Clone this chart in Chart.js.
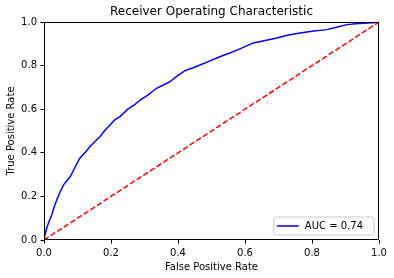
<!DOCTYPE html>
<html>
<head>
<meta charset="utf-8">
<script src="https://cdn.jsdelivr.net/npm/chart.js@4"></script>
<style>
html,body{margin:0;padding:0;background:#fff;}
#wrap{width:394px;height:278px;position:relative;}
</style>
</head>
<body>
<div id="wrap"><canvas id="c" width="394" height="278"></canvas></div>
<script>
const fpr = [0, 0.004, 0.008, 0.015, 0.023, 0.03, 0.038, 0.048, 0.058, 0.068, 0.078, 0.088, 0.098, 0.107, 0.122, 0.137, 0.152, 0.167, 0.18, 0.197, 0.212, 0.227, 0.25, 0.27, 0.287, 0.31, 0.336, 0.355, 0.376, 0.40, 0.421, 0.445, 0.466, 0.49, 0.516, 0.54, 0.555, 0.59, 0.625, 0.66, 0.695, 0.73, 0.764, 0.80, 0.844, 0.87, 0.904, 0.93, 0.953, 0.98, 1];
const tpr = [0, 0.03, 0.054, 0.085, 0.115, 0.15, 0.183, 0.22, 0.252, 0.272, 0.29, 0.32, 0.35, 0.375, 0.40, 0.428, 0.452, 0.474, 0.50, 0.528, 0.552, 0.566, 0.60, 0.62, 0.642, 0.665, 0.696, 0.71, 0.726, 0.755, 0.777, 0.79, 0.803, 0.818, 0.835, 0.85, 0.858, 0.88, 0.904, 0.915, 0.927, 0.94, 0.95, 0.958, 0.965, 0.975, 0.988, 0.992, 0.994, 0.996, 1];
const diagX = [0, 1];
const diagY = [0, 1];
const aucLabel = 'AUC = 0.74';
const titleText = 'Receiver Operating Characteristic';
const xTitle = 'False Positive Rate';
const yTitle = 'True Positive Rate';

const FONT = 'DejaVu Sans';

const framePlugin = {
  id: 'frame',
  afterDraw(chart) {
    const {ctx, chartArea: a} = chart;
    ctx.save();
    ctx.strokeStyle = '#000';
    ctx.lineWidth = 1;
    ctx.strokeRect(Math.round(a.left) + 0.5, Math.round(a.top) + 0.5, Math.round(a.right - a.left) - 1, Math.round(a.bottom - a.top) - 1);
    // legend box in lower right
    const ds = chart.data.datasets[0];
    ctx.font = '10px ' + FONT;
    const tw = ctx.measureText(ds.label).width;
    const h = 18;
    const w = 7 + 22 + 7 + tw + 6;
    const x1 = a.right - 5 - w;
    const y1 = a.bottom - 5 - h;
    ctx.fillStyle = 'rgba(255,255,255,0.8)';
    ctx.strokeStyle = '#cccccc';
    ctx.beginPath();
    const r = 2;
    ctx.moveTo(x1 + r, y1);
    ctx.arcTo(x1 + w, y1, x1 + w, y1 + h, r);
    ctx.arcTo(x1 + w, y1 + h, x1, y1 + h, r);
    ctx.arcTo(x1, y1 + h, x1, y1, r);
    ctx.arcTo(x1, y1, x1 + w, y1, r);
    ctx.closePath();
    ctx.fill();
    ctx.stroke();
    ctx.strokeStyle = ds.borderColor;
    ctx.lineWidth = 1.5;
    ctx.beginPath();
    ctx.moveTo(x1 + 3, y1 + h / 2);
    ctx.lineTo(x1 + 25, y1 + h / 2);
    ctx.stroke();
    ctx.fillStyle = '#000';
    ctx.textBaseline = 'middle';
    ctx.textAlign = 'left';
    ctx.fillText(ds.label, x1 + 31, y1 + h / 2 + 0.5);
    ctx.restore();
  }
};

new Chart(document.getElementById('c'), {
  type: 'scatter',
  data: {
    datasets: [
      {
        label: aucLabel,
        data: fpr.map((x, i) => ({x, y: tpr[i]})),
        showLine: true,
        borderColor: '#0000ff',
        borderWidth: 1.5,
        pointRadius: 0,
        tension: 0,
        fill: false,
        order: 1
      },
      {
        label: 'diag',
        data: diagX.map((x, i) => ({x, y: diagY[i]})),
        showLine: true,
        borderColor: '#ff0000',
        borderWidth: 1.5,
        borderDash: [5.5, 2.4],
        pointRadius: 0,
        fill: false,
        order: 0
      }
    ]
  },
  options: {
    responsive: false,
    animation: false,
    devicePixelRatio: 1,
    layout: {padding: {left: 0, right: 15, top: 0, bottom: 0}},
    plugins: {
      legend: {display: false},
      tooltip: {enabled: false},
      title: {
        display: true,
        fullSize: false,
        text: titleText,
        color: '#000',
        font: {family: FONT, size: 12, weight: 'normal'},
        padding: {top: 5, bottom: 2.6}
      }
    },
    scales: {
      x: {
        type: 'linear',
        min: 0, max: 1,
        afterFit(s) { s.height = 38; },
        border: {display: false},
        grid: {display: true, drawOnChartArea: false, drawTicks: true, tickLength: 3.5, tickColor: '#000', color: '#000'},
        ticks: {stepSize: 0.2, color: '#000', font: {family: FONT, size: 10}, padding: 3.5, maxRotation: 0,
          callback: v => Number(v).toFixed(1)},
        title: {display: true, text: xTitle, color: '#000', font: {family: FONT, size: 10}, padding: {top: 2, bottom: 5}}
      },
      y: {
        type: 'linear',
        min: 0, max: 1,
        afterFit(s) { s.width = 44; },
        border: {display: false},
        grid: {display: true, drawOnChartArea: false, drawTicks: true, tickLength: 3.5, tickColor: '#000', color: '#000'},
        ticks: {stepSize: 0.2, color: '#000', font: {family: FONT, size: 10}, padding: 3.5,
          callback: v => Number(v).toFixed(1)},
        title: {display: true, text: yTitle, color: '#000', font: {family: FONT, size: 10}, padding: {top: 5, bottom: 2}}
      }
    }
  },
  plugins: [framePlugin]
});
</script>
</body>
</html>
